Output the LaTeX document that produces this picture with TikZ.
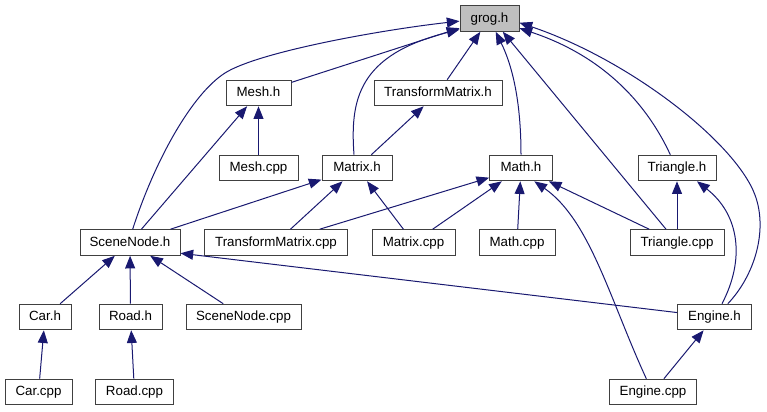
\documentclass[tikz,border=0pt]{standalone}
\usepackage{fontspec}
\setmainfont{Liberation Sans}
\usepackage{tikz}
\usetikzlibrary{arrows.meta}
\definecolor{edgeblue}{HTML}{191970}
\tikzstyle{file} = [rectangle, draw=black!75, line width=0.75pt, fill=white,
    minimum height=19.2pt, inner sep=0pt, text height=7.4pt, text depth=2.1pt,
    font=\fontsize{10pt}{12pt}\selectfont]
\tikzstyle{dep} = [-{Triangle[length=9.5pt,width=7.5pt]}, draw=edgeblue, fill=none, line width=0.75pt]

\begin{document}
\begin{tikzpicture}[x=0.75pt, y=-0.75pt]
        \useasboundingbox (0,0) rectangle (767,411);
        % Nodes
        \node (grogH) [file, fill=black!25, minimum width=44.25pt] at (489.5,18.5) {grog.h};
        \node (meshH) [file, minimum width=48.75pt] at (258.5,93) {Mesh.h};
        \node (transformMatrixH) [file, minimum width=96pt] at (438,93) {TransformMatrix.h};
        \node (meshCpp) [file, minimum width=59.25pt] at (258.5,168) {Mesh.cpp};
        \node (matrixH) [file, minimum width=52.5pt] at (357,168) {Matrix.h};
        \node (mathH) [file, minimum width=47pt] at (521,168) {Math.h};
        \node (triangleH) [file, minimum width=58.5pt] at (677,168) {Triangle.h};
        \node (sceneNodeH) [file, minimum width=75pt] at (130,242.5) {SceneNode.h};
        \node (transformMatrixCpp) [file, minimum width=107pt] at (276,242.5) {TransformMatrix.cpp};
        \node (matrixCpp) [file, minimum width=62.25pt] at (413.5,242.5) {Matrix.cpp};
        \node (mathCpp) [file, minimum width=57pt] at (517,242.5) {Math.cpp};
        \node (triangleCpp) [file, minimum width=70.5pt] at (677,242.5) {Triangle.cpp};
        \node (carH) [file, minimum width=39pt] at (45,317) {Car.h};
        \node (roadH) [file, minimum width=47.25pt] at (130.5,317) {Road.h};
        \node (sceneNodeCpp) [file, minimum width=86.25pt] at (243.5,317) {SceneNode.cpp};
        \node (engineH) [file, minimum width=55.2pt] at (714.5,317) {Engine.h};
        \node (carCpp) [file, minimum width=50.25pt] at (38.5,392) {Car.cpp};
        \node (roadCpp) [file, minimum width=58.2pt] at (134.5,392) {Road.cpp};
        \node (engineCpp) [file, minimum width=65.25pt] at (653,392) {Engine.cpp};

        % Includes of grog.h
        \draw[dep] ([xshift=2pt]sceneNodeH.north) .. controls (155,160) and (192,94) .. (225,73)
            .. controls (258,52) and (380,30) .. (grogH.185);
        \draw[dep] (meshH) -- (grogH);
        \draw[dep] ([xshift=-2.25pt]matrixH.north) .. controls (350,100) and (358,55) .. (grogH.200);
        \draw[dep] (transformMatrixH) -- (grogH);
        \draw[dep] (mathH.north) .. controls (521,100) and (512,65) .. (grogH.-65);
        \draw[dep] (triangleCpp) -- (grogH.-45);
        \draw[dep] ([xshift=-5pt]triangleH.north) .. controls (645,100) and (600,55) .. (grogH.-18);
        \draw[dep] ([xshift=10pt]engineH.north) .. controls (755,275) and (768,230) .. (755,195)
            .. controls (735.5,142.5) and (630,60) .. (grogH.-8);

        % Other includes
        \draw[dep] (meshCpp) -- (meshH);
        \draw[dep] (sceneNodeH) -- (meshH);
        \draw[dep] (matrixH) -- (transformMatrixH);
        \draw[dep] (sceneNodeH) -- (matrixH);
        \draw[dep] (transformMatrixCpp) -- (matrixH);
        \draw[dep] (matrixCpp) -- (matrixH);
        \draw[dep] (transformMatrixCpp) -- (mathH);
        \draw[dep] (matrixCpp) -- (mathH);
        \draw[dep] (mathCpp) -- (mathH);
        \draw[dep] (triangleCpp) -- (mathH);
        \draw[dep] ([xshift=-5pt]engineCpp.north) .. controls (610,300) and (590,220) .. ([xshift=10pt]mathH.south);
        \draw[dep] (triangleCpp) -- (triangleH);
        \draw[dep] ([xshift=5.6pt]engineH.north) .. controls (745,260) and (740,215) .. ([xshift=15pt]triangleH.south);
        \draw[dep] (carH) -- (sceneNodeH);
        \draw[dep] (roadH) -- (sceneNodeH);
        \draw[dep] (sceneNodeCpp) -- (sceneNodeH);
        \draw[dep] (engineH) -- (sceneNodeH.-12);
        \draw[dep] (carCpp) -- (carH);
        \draw[dep] (roadCpp) -- (roadH);
        \draw[dep] (engineCpp) -- (engineH);
\end{tikzpicture}
\end{document}
